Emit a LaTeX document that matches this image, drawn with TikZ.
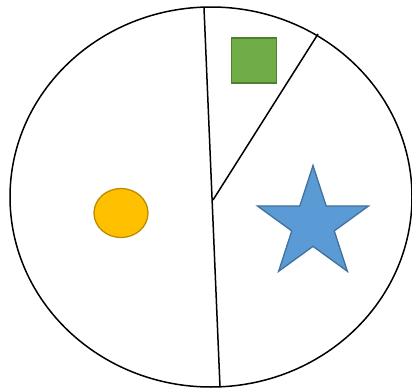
\documentclass[tikz,border=0pt]{standalone}
\usetikzlibrary{shapes.geometric}
\definecolor{leafgreen}{HTML}{70AD47}
\definecolor{leafedge}{HTML}{507E32}
\definecolor{sunyellow}{HTML}{FFC000}
\definecolor{sunedge}{HTML}{BC8C00}
\definecolor{skyblue}{HTML}{5B9BD5}
\definecolor{skyedge}{HTML}{41719C}
\begin{document}
\begin{tikzpicture}[x=1pt,y=-1pt,
    piece/.style={draw=#1,line width=1.3pt,inner sep=0pt}]
    \useasboundingbox (0,0) rectangle (412,388);
    % outer ellipse
    \draw[line width=1.5pt] (211,197) ellipse [x radius=201pt, y radius=190pt];
    % dividing lines
    \coordinate (topcut) at (204,8);
    \coordinate (botcut) at (220,387);
    \coordinate (mid) at (213,200);
    \coordinate (rimcut) at (318,34);
    \draw[line width=1.5pt] (topcut) -- (botcut);
    \draw[line width=1.5pt] (mid) -- (rimcut);
    % shapes
    \node[piece=leafedge,fill=leafgreen,rectangle,minimum size=45pt] (sq) at (254,60.5) {};
    \node[piece=sunedge,fill=sunyellow,ellipse,minimum width=54pt,minimum height=49pt] (disc) at (121,213) {};
    \node[piece=skyedge,fill=skyblue,star,star points=5,star point ratio=2.618,minimum size=117pt] (st) at (313,224) {};
\end{tikzpicture}
\end{document}
